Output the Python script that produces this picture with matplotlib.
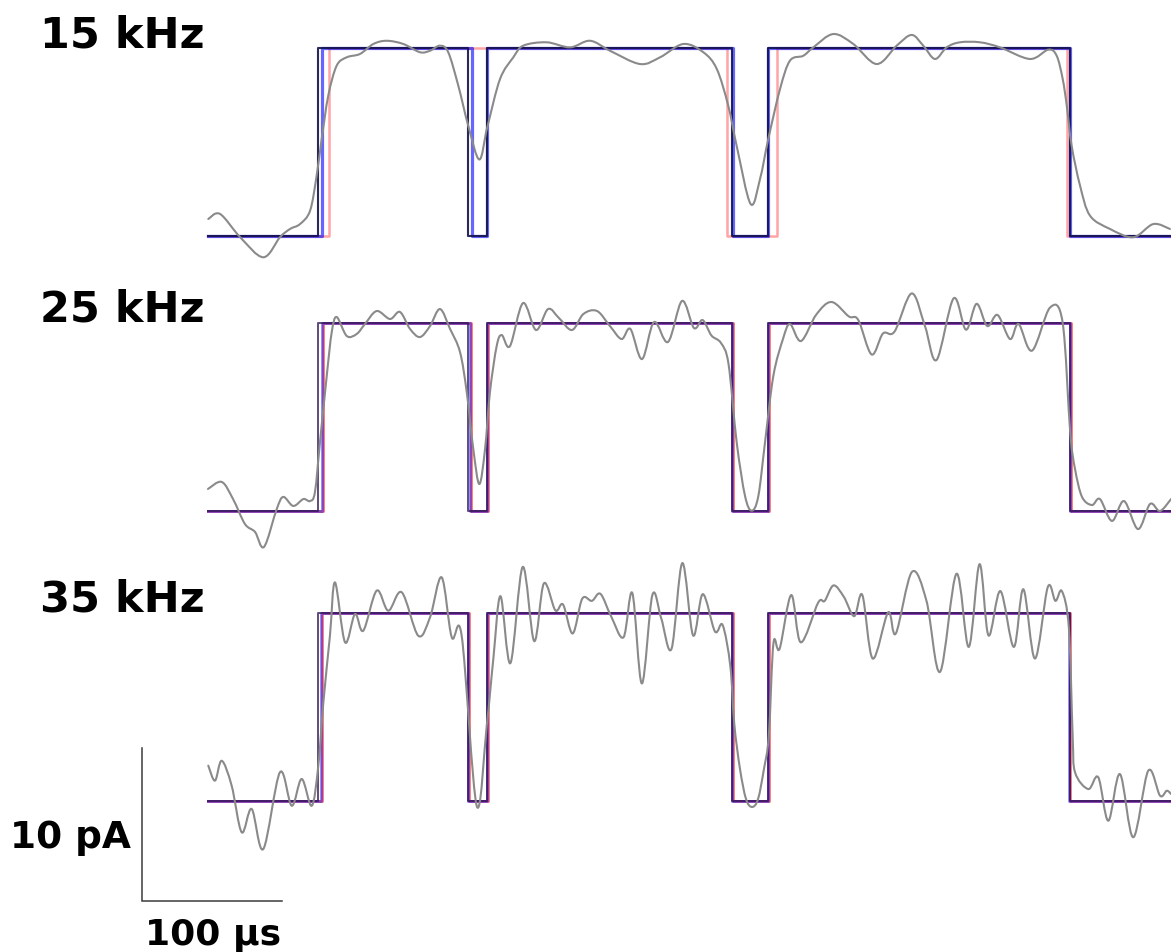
import numpy as np
import matplotlib

matplotlib.use("Agg")
import matplotlib.pyplot as plt
from matplotlib.path import Path
from matplotlib.patches import PathPatch

# figure geometry (pixels at dpi 100)
FIG_W, FIG_H = 1171, 953
PX_PER_US = 1.4
PX_PER_PA = 15.3
X0_PX = 208
BASELINES_PX = [237, 512, 802]

T_END = 687.9
OPEN_LEVEL = 12.3  # pA

PANEL_LABELS = ["15 kHz", "25 kHz", "35 kHz"]

# idealised event edges (µs): open, close, open, close, open, close
TRUE_EDGES = [78.8, 185.9, 199.5, 374.5, 400.2, 615.4]

BLUE_EDGES = [
    [81.2, 188.4, 199.5, 375.0, 400.2, 615.7],
    [81.2, 187.1, 199.5, 374.5, 400.2, 615.7],
    [80.5, 186.0, 199.5, 374.3, 400.2, 615.2],
]
RED_EDGES = [
    [86.4, 370.5, 406.4, 613.4],
    [81.8, 187.6, 200.1, 375.0, 400.8, 616.2],
    [81.1, 186.5, 200.1, 374.8, 400.8, 615.7],
]

# filtered current records (time µs, current pA)
T_15 = [0.2, 8.6, 22.9, 39.5, 51.4, 58.6, 65.7, 72.9, 77.6, 81.2, 85.9, 91.9,
        99.1, 108.6, 118.1, 127.6, 139.5, 151.4, 158.6, 165.7, 171.6, 178.8,
        185.9, 193.8, 199.5, 208.6, 218.1, 225.2, 241.9, 258.6, 272.9, 287.1,
        308.6, 322.9, 339.5, 353.8, 363.4, 371.6, 377.6, 387.6, 394.3, 400.2,
        408.6, 415.7, 425.2, 432.4, 446.6, 460.9, 477.6, 491.9, 502.6, 510.9,
        519.3, 527.6, 537.1, 551.4, 565.7, 587.1, 600.2, 606.2, 610.5, 613.4,
        616.9, 622.9, 630.0, 644.3, 660.9, 675.2, 687.1]
I_15 = [1.11, 1.44, -0.07, -1.39, -0.08, 0.46, 0.78, 1.65, 3.94, 6.34, 9.17,
        11.13, 11.68, 11.90, 12.55, 12.76, 12.55, 12.01, 12.11, 12.44, 12.01,
        9.82, 7.21, 5.00, 7.12, 10.26, 11.68, 12.44, 12.66, 12.33, 12.76, 12.11,
        11.24, 11.68, 12.55, 12.01, 10.92, 8.52, 5.90, 2.09, 3.73, 6.34, 9.61,
        11.46, 11.78, 12.33, 13.20, 12.55, 11.24, 12.44, 13.14, 12.44, 11.57,
        12.33, 12.66, 12.66, 12.33, 11.57, 12.18, 11.78, 10.26, 8.52, 5.90,
        3.29, 1.33, 0.46, -0.08, 0.78, 0.46]

T_25 = [0.0, 9.8, 17.9, 26.4, 33.6, 40.0, 49.1, 53.8, 60.9, 68.1, 72.9, 76.4,
        80.0, 84.8, 88.4, 91.9, 99.1, 106.2, 112.1, 120.5, 130.0, 137.1, 144.3,
        151.4, 158.6, 165.7, 172.9, 180.0, 184.8, 189.5, 193.8, 197.9, 201.4,
        206.2, 209.8, 215.7, 225.0, 234.3, 242.9, 250.7, 260.0, 268.2, 277.9,
        287.1, 295.4, 301.7, 310.0, 318.6, 328.6, 338.6, 347.1, 353.3, 359.6,
        366.4, 371.8, 377.6, 383.6, 388.4, 393.1, 397.9, 403.8, 410.7, 415.7,
        423.6, 434.5, 445.4, 457.7, 464.5, 474.0, 482.1, 490.4, 502.6, 512.1,
        520.4, 532.6, 541.4, 549.0, 556.6, 564.0, 572.9, 579.0, 588.6, 601.4,
        610.4, 615.9, 619.3, 624.3, 631.4, 637.1, 645.7, 654.3, 664.3, 672.9,
        680.0, 687.9]
I_25 = [1.44, 1.90, 0.78, -0.85, -1.37, -2.35, 0.13, 0.92, 0.33, 0.78, 0.65,
        1.24, 4.51, 8.82, 11.70, 12.68, 11.44, 11.57, 12.22, 13.07, 12.55, 13.01,
        11.90, 11.37, 12.09, 13.20, 11.90, 10.39, 7.78, 4.05, 1.76, 4.05, 7.78,
        10.78, 11.50, 10.78, 13.59, 11.83, 13.20, 12.61, 11.83, 12.88, 13.07,
        12.09, 11.24, 11.90, 9.93, 12.35, 11.05, 13.73, 11.96, 12.48, 11.47,
        10.98, 9.61, 4.51, 0.98, 0.02, 0.98, 4.51, 8.82, 11.24, 12.22, 11.11,
        12.84, 13.66, 12.72, 12.48, 10.23, 11.60, 11.73, 14.22, 12.09, 9.87,
        13.90, 11.85, 13.54, 12.09, 12.81, 11.24, 12.22, 10.48, 13.29, 12.35,
        5.10, 2.75, 0.92, 0.39, 0.78, -0.65, 0.65, -1.18, 0.46, 0.0, 0.78]

T_35 = [0.2, 5.0, 9.8, 16.9, 24.1, 31.2, 39.5, 51.4, 59.8, 66.9, 74.1, 78.8,
        82.4, 87.1, 90.7, 97.9, 105.0, 110.9, 120.5, 128.8, 138.4, 150.2, 158.6,
        166.9, 174.1, 181.2, 191.9, 199.1, 203.8, 208.9, 216.0, 224.8, 233.0,
        239.9, 248.1, 253.6, 260.5, 267.3, 274.2, 280.3, 287.9, 296.8, 303.1,
        309.9, 317.4, 323.7, 331.1, 338.8, 346.5, 353.4, 362.1, 367.6, 373.1,
        375.9, 380.0, 384.3, 388.6, 392.9, 397.1, 400.6, 403.9, 408.3, 416.6,
        423.4, 435.8, 440.5, 446.8, 454.2, 461.6, 467.4, 474.8, 485.8, 491.3,
        502.8, 513.2, 522.9, 534.6, 543.4, 551.1, 557.5, 566.0, 575.6, 582.4,
        590.7, 599.8, 605.3, 609.9, 614.9, 617.6, 619.3, 628.8, 635.9, 643.1,
        651.4, 660.9, 671.6, 680.0, 684.8, 687.9]
I_35 = [2.31, 1.33, 2.63, 1.00, -2.05, -0.52, -3.14, 1.88, -0.31, 1.44, -0.31,
        2.31, 6.45, 10.80, 14.29, 10.37, 12.22, 11.13, 13.75, 12.44, 13.64,
        10.80, 12.01, 14.62, 10.70, 10.80, -0.31, 4.92, 9.28, 13.39, 9.01, 15.30,
        10.45, 14.22, 12.46, 12.84, 10.95, 13.22, 13.08, 13.54, 12.08, 10.70,
        13.59, 7.68, 13.46, 11.95, 9.95, 15.55, 10.82, 13.52, 11.08, 11.50, 8.81,
        5.05, 2.09, 0.13, -0.39, 0.13, 2.09, 4.29, 10.32, 9.95, 13.46, 10.37,
        12.96, 13.08, 14.09, 13.34, 12.08, 13.46, 9.31, 12.33, 10.95, 14.97,
        13.08, 8.44, 14.85, 10.07, 15.48, 10.82, 13.72, 10.07, 13.84, 9.31,
        13.97, 13.08, 13.72, 11.33, 4.29, 1.88, 0.78, 1.55, -1.29, 1.76, -2.37,
        1.98, 0.35, 0.67, 0.46]

RECORDS = [(T_15, I_15), (T_25, I_25), (T_35, I_35)]

SCALE_T = 100  # µs
SCALE_I = 10   # pA

# (colour, alpha, linewidth) of the red, blue and true idealisations per panel
STYLES = [
    {"red": ("#ff2020", 0.4, 1.8), "blue": ("#0000ff", 0.6, 2.3),
     "true": ("#12124a", 0.9, 1.5)},
    {"red": ("#ff2020", 0.6, 2.1), "blue": ("#0000ff", 0.45, 2.1),
     "true": ("#2a1050", 0.75, 1.4)},
    {"red": ("#ff2020", 0.6, 2.1), "blue": ("#0000ff", 0.45, 2.1),
     "true": ("#2a1050", 0.75, 1.4)},
]


def step_xy(edges, level, t_end):
    x, y = [0.0], [0.0]
    state = 0.0
    for e in edges:
        x += [e, e]
        y += [state, level - state]
        state = level - state
    x.append(t_end)
    y.append(state)
    return x, y


def smooth_path(t, i):
    # Catmull-Rom curve through the samples, as cubic Bezier segments
    pts = np.column_stack([t, i]).astype(float)
    n = len(pts)
    verts = [pts[0]]
    codes = [Path.MOVETO]
    for k in range(n - 1):
        p0 = pts[max(k - 1, 0)]
        p1 = pts[k]
        p2 = pts[k + 1]
        p3 = pts[min(k + 2, n - 1)]
        verts += [p1 + (p2 - p0) / 6.0, p2 - (p3 - p1) / 6.0, p2]
        codes += [Path.CURVE4] * 3
    return Path(verts, codes)


fig = plt.figure(figsize=(FIG_W / 100, FIG_H / 100), dpi=100)
fig.patch.set_facecolor("white")
label_font = dict(fontweight="bold", family="DejaVu Sans", color="black",
                  ha="left", va="baseline")

y_lo, y_hi = -5.0, 15.0
axes = []
for p, base in enumerate(BASELINES_PX):
    top_px = base - y_hi * PX_PER_PA
    height_px = (y_hi - y_lo) * PX_PER_PA
    ax = fig.add_axes([
        X0_PX / FIG_W,
        1 - (top_px + height_px) / FIG_H,
        T_END * PX_PER_US / FIG_W,
        height_px / FIG_H,
    ])
    ax.set_xlim(0, T_END)
    ax.set_ylim(y_lo, y_hi)
    ax.axis("off")
    ax.patch.set_alpha(0)
    axes.append(ax)

    t, i = RECORDS[p]
    ax.add_patch(PathPatch(smooth_path(t, i), fill=False, edgecolor="#8a8a8a",
                           lw=1.5, capstyle="round", joinstyle="round",
                           clip_on=False, zorder=4))

    st = STYLES[p]
    for key, edges, z in [("red", RED_EDGES[p], 1), ("blue", BLUE_EDGES[p], 2),
                          ("true", TRUE_EDGES, 3)]:
        c, a, w = st[key]
        sx, sy = step_xy(edges, OPEN_LEVEL, T_END)
        ax.plot(sx, sy, color=c, alpha=a, lw=w, clip_on=False, zorder=z)

    fig.text(40 / FIG_W, 1 - (base - 190) / FIG_H, PANEL_LABELS[p],
             fontsize=31, **label_font)

# scale bar, anchored below the 35 kHz record
ax = axes[2]
t0 = (142 - X0_PX) / PX_PER_US
i0 = -(902 - BASELINES_PX[2]) / PX_PER_PA
ax.plot([t0, t0, t0 + SCALE_T], [i0 + SCALE_I, i0, i0], color="#3a3a3a",
        lw=1.1, clip_on=False, solid_joinstyle="miter")
fig.text(10 / FIG_W, 1 - 848 / FIG_H, f"{SCALE_I} pA", fontsize=27,
         **label_font)
fig.text(145 / FIG_W, 1 - 945 / FIG_H, f"{SCALE_T} µs", fontsize=26,
         **label_font)

fig.savefig("out.png", dpi=100, facecolor="white")
